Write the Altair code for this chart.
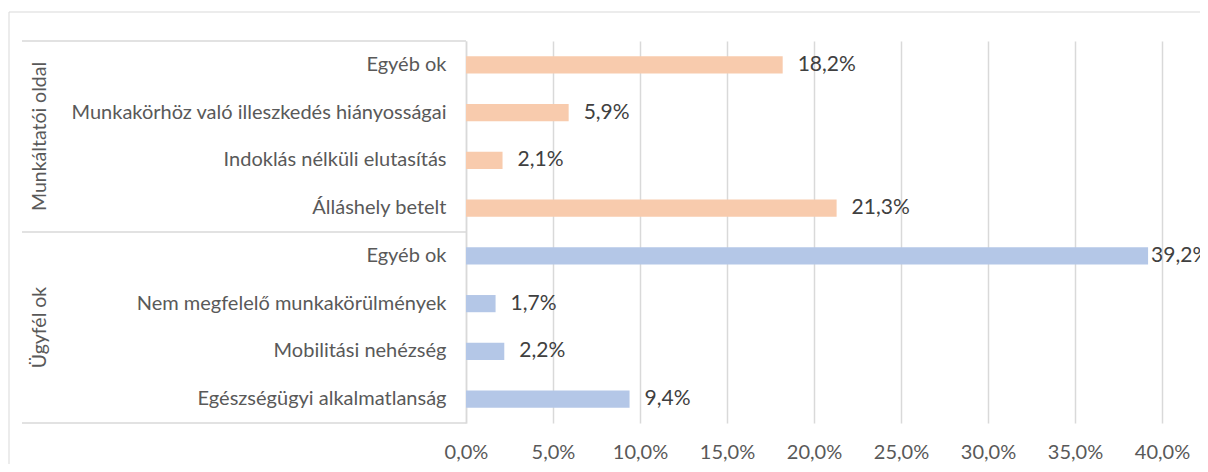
import altair as alt
import pandas as pd

# ---- data ----
groups = ["Munkáltatói oldal", "Ügyfél ok"]
items = [
    "Egyéb ok",
    "Munkakörhöz való illeszkedés hiányosságai",
    "Indoklás nélküli elutasítás",
    "Álláshely betelt",
    "Egyéb ok",
    "Nem megfelelő munkakörülmények",
    "Mobilitási nehézség",
    "Egészségügyi alkalmatlanság",
]
item_groups = [groups[0]] * 4 + [groups[1]] * 4
values = [18.2, 5.9, 2.1, 21.3, 39.2, 1.7, 2.2, 9.4]
x_ticks = [0, 5, 10, 15, 20, 25, 30, 35, 40]
colors = ["#F8CBAD", "#B4C7E7"]

keys = [f"{i}|{n}" for i, n in enumerate(items)]
df = pd.DataFrame({
    "key": keys,
    "item": items,
    "group": item_groups,
    "value": values,
    "label": [f"{v:.1f}".replace(".", ",") + "%" for v in values],
})
gdf = pd.DataFrame({"group": groups})
one = pd.DataFrame({"a": [0]})

W, H = 696, 382
FONT = "Lato"
GRID = "#D9D9D9"

y_enc = alt.Y(
    "key:N", sort=keys,
    scale=alt.Scale(paddingInner=0.64, paddingOuter=0.32),
    axis=alt.Axis(
        title=None, labelExpr="split(datum.label, '|')[1]", ticks=False,
        domain=True, domainColor=GRID, domainWidth=1.5, labelPadding=20,
        labelLimit=600, labelFont=FONT, labelFontSize=20, labelColor="#595959",
        grid=False,
    ),
)
x_enc = alt.X(
    "value:Q",
    scale=alt.Scale(domain=[0, 40], nice=False, zero=True),
    axis=alt.Axis(
        values=x_ticks, title=None,
        labelExpr="replace(format(datum.value, '.1f'), '.', ',') + '%'",
        grid=True, gridColor=GRID, gridWidth=1.5, domain=False, ticks=False,
        labelFlush=False, labelOverlap=False,
        labelPadding=19, labelFont=FONT, labelFontSize=20, labelColor="#595959",
    ),
)

bars = alt.Chart(df).mark_bar().encode(
    x=x_enc, y=y_enc,
    color=alt.Color("group:N", scale=alt.Scale(domain=groups, range=colors), legend=None),
)
labels_in = alt.Chart(df).transform_filter("datum.value < 38").mark_text(
    align="left", baseline="middle", dx=15, font=FONT, fontSize=21, color="#404040"
).encode(x=alt.X("value:Q"), y=alt.Y("key:N", sort=keys), text="label:N")
labels_edge = alt.Chart(df).transform_filter("datum.value >= 38").mark_text(
    align="left", baseline="middle", dx=3, font=FONT, fontSize=21, color="#404040"
).encode(x=alt.X("value:Q"), y=alt.Y("key:N", sort=keys), text="label:N")

data_layer = alt.layer(bars, labels_in, labels_edge)

gscale = alt.Scale(domain=groups, paddingInner=0, paddingOuter=0)
group_text = alt.Chart(gdf).mark_text(
    angle=270, align="center", baseline="middle", font=FONT, fontSize=19.5, color="#595959"
).encode(
    y=alt.Y("group:N", scale=gscale, axis=None),
    x=alt.value(-426),
    text="group:N",
)
group_rules = alt.Chart(gdf).mark_rule(color=GRID, strokeWidth=1.5).encode(
    y=alt.Y("group:N", scale=gscale, axis=None, bandPosition=0),
    x=alt.value(-444), x2=alt.value(0),
)
bottom_rule = alt.Chart(one).mark_rule(color=GRID, strokeWidth=1.5).encode(
    y=alt.value(H), x=alt.value(-444), x2=alt.value(0),
)
frame_top = alt.Chart(one).mark_rule(color=GRID, strokeWidth=1).encode(
    y=alt.value(-29), x=alt.value(-457), x2=alt.value(740),
)
frame_left = alt.Chart(one).mark_rule(color=GRID, strokeWidth=1).encode(
    x=alt.value(-457), y=alt.value(-29), y2=alt.value(440),
)
deco_layer = alt.layer(group_rules, bottom_rule, frame_top, frame_left, group_text)

chart = alt.layer(data_layer, deco_layer).resolve_scale(y="independent").properties(
    width=W, height=H,
    autosize=alt.AutoSizeParams(type="none"),
    padding={"left": 458, "top": 33, "right": 38, "bottom": 41},
    background="white",
).configure_view(stroke=None)

chart.save("out.html", embed_options={"renderer": "svg", "actions": False})
